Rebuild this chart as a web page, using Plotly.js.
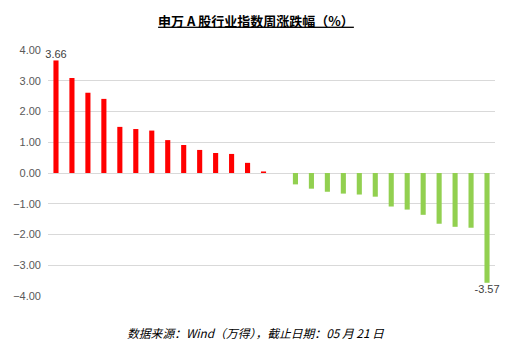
<!DOCTYPE html>
<html>
<head>
<meta charset="utf-8">
<script src="https://cdn.plot.ly/plotly-3.0.1.min.js"></script>
<style>html,body{margin:0;padding:0;background:#fff;}#chart{width:512px;height:352px;}</style>
</head>
<body>
<div id="chart"></div>
<script>
// 28 Shenwan level-1 industries, ranked by weekly change (%)
const ranks = Array.from({length: 28}, (_, i) => i + 1);
const values = [3.66, 3.09, 2.61, 2.41, 1.50, 1.43, 1.38, 1.07, 0.91, 0.75, 0.65, 0.62, 0.33, 0.05, 0.00,
                -0.37, -0.51, -0.61, -0.67, -0.70, -0.77, -1.09, -1.19, -1.36, -1.65, -1.75, -1.78, -3.57];
const labelIdx = [0, 27]; // only max and min labelled
const yTicks = [-4, -3, -2, -1, 0, 1, 2, 3, 4];

const colors = values.map(v => v >= 0 ? '#ff0000' : '#92d050');
const texts = values.map((v, i) => labelIdx.includes(i) ? v.toFixed(2) : '');

const numFont = 'Liberation Sans, Arial, sans-serif';

const trace = {
  type: 'bar',
  x: ranks,
  y: values,
  width: 0.32,
  marker: {color: colors, line: {width: 0}},
  text: texts,
  textposition: 'outside',
  constraintext: 'none',
  cliponaxis: false,
  textfont: {family: numFont, size: 11, color: '#404040'},
  hoverinfo: 'y'
};

const layout = {
  width: 512, height: 352,
  margin: {l: 48, r: 17, t: 50, b: 56},
  paper_bgcolor: '#ffffff', plot_bgcolor: '#ffffff',
  showlegend: false,
  title: {
    text: '<b><u>申万 A 股行业指数周涨跌幅（%）</u></b>',
    font: {family: 'Noto Sans CJK SC, sans-serif', size: 13, color: '#000000'},
    x: 0.5, xanchor: 'center', y: 0.94, yanchor: 'middle'
  },
  xaxis: {
    type: 'linear', range: [0.5, 28.5],
    showticklabels: false, showgrid: false, zeroline: false, ticks: ''
  },
  yaxis: {
    range: [-4, 4], tickvals: yTicks, tickformat: '.2f',
    showgrid: true, gridcolor: '#d9d9d9', gridwidth: 1,
    zeroline: true, zerolinecolor: '#d9d9d9', zerolinewidth: 1,
    showline: false, ticks: '', ticklen: 0, ticklabelstandoff: 6,
    tickfont: {family: numFont, size: 11, color: '#595959'}
  },
  bargap: 0.68,
  annotations: [{
    text: '<i>数据来源：Wind（万得），截止日期：05 月 21 日</i>',
    xref: 'paper', yref: 'paper', x: 0.465, y: -0.15, xanchor: 'center', yanchor: 'middle',
    showarrow: false,
    font: {family: 'Noto Sans CJK SC, sans-serif', size: 11.8, color: '#000000'}
  }]
};

Plotly.newPlot('chart', [trace], layout, {displayModeBar: false, staticPlot: true});
</script>
</body>
</html>
